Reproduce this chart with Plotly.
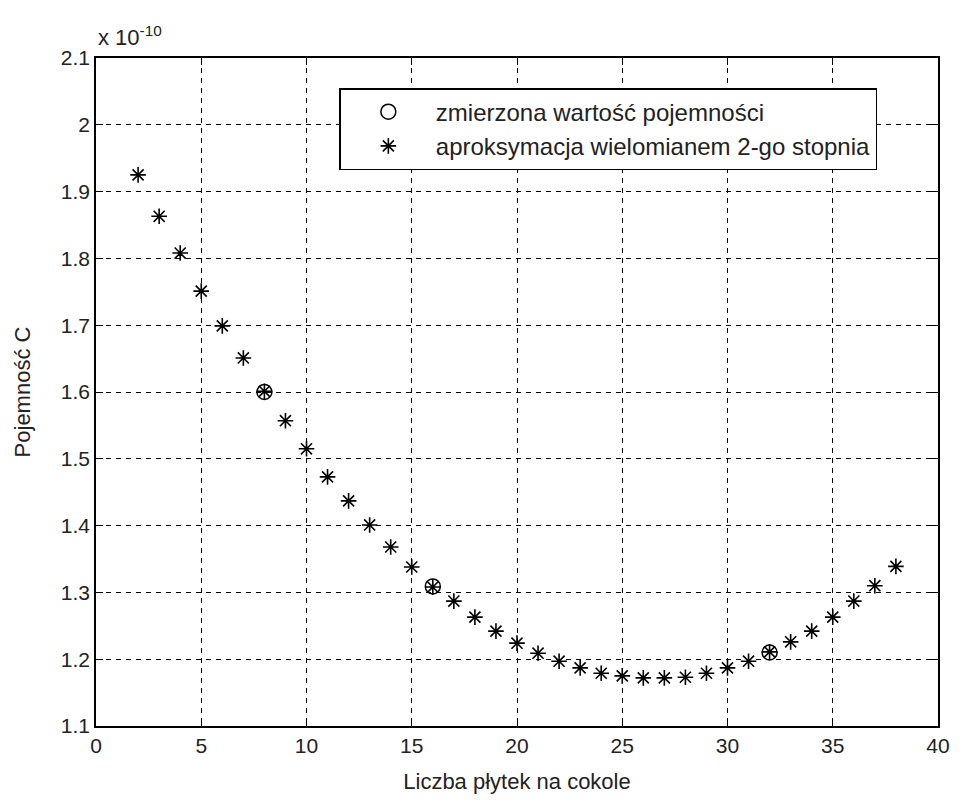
import plotly.graph_objects as go

# values in units of 1e-10 F
x_measured = [8, 16, 32]
c_measured = [1.600, 1.309, 1.210]

x_fit = list(range(2, 39))
c_fit = [1.925, 1.863, 1.808, 1.751, 1.699, 1.651, 1.601, 1.557, 1.515, 1.473,
         1.437, 1.401, 1.368, 1.338, 1.308, 1.287, 1.263, 1.242, 1.224, 1.209,
         1.197, 1.187, 1.179, 1.175, 1.172, 1.172, 1.173, 1.179, 1.187, 1.197,
         1.211, 1.226, 1.242, 1.263, 1.287, 1.310, 1.339]

x_ticks = [0, 5, 10, 15, 20, 25, 30, 35, 40]
y_ticks = [1.1, 1.2, 1.3, 1.4, 1.5, 1.6, 1.7, 1.8, 1.9, 2.0, 2.1]
y_tick_labels = ["1.1", "1.2", "1.3", "1.4", "1.5", "1.6", "1.7", "1.8", "1.9", "2", "2.1"]

FONT = "Liberation Sans, Arial, sans-serif"

fig = go.Figure()
fig.add_trace(go.Scatter(
    x=x_measured, y=c_measured, mode="markers",
    name="zmierzona wartość pojemności",
    marker=dict(symbol="circle-open", size=15, color="black", line=dict(width=1.5, color="black")),
))
fig.add_trace(go.Scatter(
    x=x_fit, y=c_fit, mode="markers",
    name="aproksymacja wielomianem 2-go stopnia",
    marker=dict(symbol="asterisk-open", size=13, color="black", line=dict(width=1.6, color="black")),
))

axis_common = dict(
    showline=True, linecolor="black", linewidth=1.5, mirror="ticks",
    ticks="inside", ticklen=7, tickcolor="black", tickwidth=1.2,
    showgrid=True, gridcolor="black", gridwidth=1, griddash="5px,5px",
    zeroline=False,
    tickfont=dict(family=FONT, size=21, color="#222"),
)

fig.update_layout(
    width=961, height=803,
    margin=dict(l=96, r=23, t=58, b=77),
    paper_bgcolor="white", plot_bgcolor="white",
    showlegend=True,
    legend=dict(
        x=0.289, y=0.955, xanchor="left", yanchor="top",
        bgcolor="white", bordercolor="black", borderwidth=1.5,
        font=dict(family=FONT, size=24, color="#222"),
        itemsizing="trace", itemwidth=85,
        tracegroupgap=0,
    ),
    xaxis=dict(
        range=[0, 40], tickvals=x_ticks,
        title=dict(text="Liczba płytek na cokole", font=dict(family=FONT, size=22, color="#222"), standoff=18),
        **axis_common,
    ),
    yaxis=dict(
        range=[1.1, 2.1], tickvals=y_ticks, ticktext=y_tick_labels,
        title=dict(text="Pojemność C", font=dict(family=FONT, size=22, color="#222"), standoff=24),
        **axis_common,
    ),
    annotations=[dict(
        x=0, y=1.0, xref="paper", yref="paper", xanchor="left", yanchor="bottom",
        yshift=6, text="x 10<sup>-10</sup>", showarrow=False,
        font=dict(family=FONT, size=22, color="#222"),
    )],
)

fig.write_html("out.html")
